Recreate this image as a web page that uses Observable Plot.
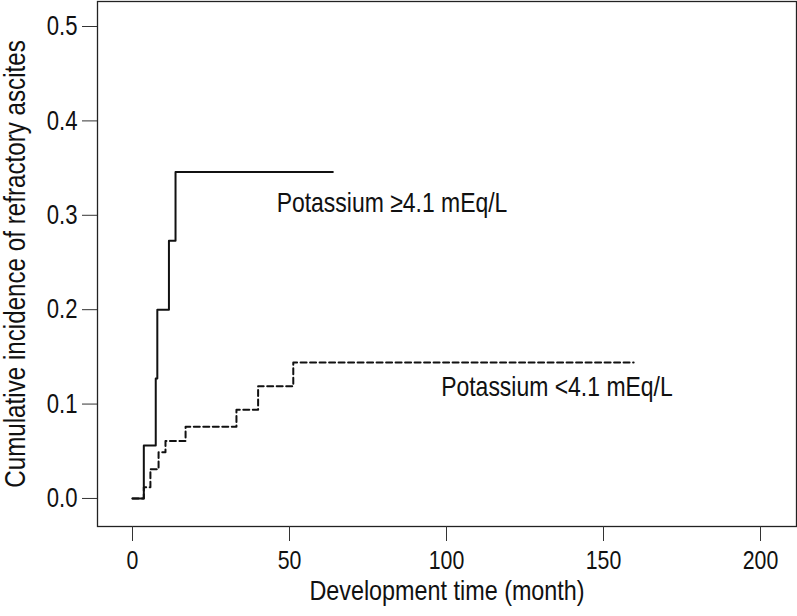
<!DOCTYPE html>
<html>
<head>
<meta charset="utf-8">
<script src="https://cdn.jsdelivr.net/npm/d3@7"></script>
<script src="https://cdn.jsdelivr.net/npm/@observablehq/plot@0.6"></script>
<style>
  html, body { margin: 0; padding: 0; background: #fff; }
  #chart svg { display: block; }
</style>
</head>
<body>
<div id="chart"></div>
<script>
// Potassium >= 4.1 mEq/L (solid)
const highTime = [0, 3.6, 7.4, 7.9, 11.6, 13.7, 63.8];
const highInc  = [0, 0.056, 0.127, 0.200, 0.273, 0.346, 0.346];
// Potassium < 4.1 mEq/L (dashed)
const lowTime = [0, 3.6, 5.7, 8.3, 10.5, 16.9, 33.1, 40.0, 51.2, 159.6];
const lowInc  = [0, 0.012, 0.031, 0.049, 0.061, 0.076, 0.094, 0.119, 0.144, 0.144];

const xTicks = [0, 50, 100, 150, 200];
const yTicks = [0.0, 0.1, 0.2, 0.3, 0.4, 0.5];
const labelHigh = "Potassium ≥4.1 mEq/L";
const labelLow = "Potassium <4.1 mEq/L";
const xTitle = "Development time (month)";
const yTitle = "Cumulative incidence of refractory ascites";

const high = highTime.map((t, i) => ({t, p: highInc[i]}));
const low = lowTime.map((t, i) => ({t, p: lowInc[i]}));

const font = "'Liberation Sans', Arial, sans-serif";

const chart = Plot.plot({
  width: 797,
  height: 616,
  marginLeft: 97,
  marginRight: 1,
  marginTop: 1,
  marginBottom: 90,
  style: {fontFamily: font, fontSize: "26px", color: "#111", background: "#fff"},
  x: {domain: [-11.15, 211.46]},
  y: {domain: [-0.0297, 0.5265]},
  marks: [
    Plot.frame({stroke: "#222", strokeWidth: 1.3}),
    Plot.axisX({ticks: xTicks, tickSize: 15, tickPadding: 9, label: null, stroke: "#333", fontSize: 26}),
    Plot.axisY({ticks: yTicks, tickSize: 15, tickPadding: 5, label: null, tickFormat: d3.format(".1f"), stroke: "#333", fontSize: 27}),
    Plot.line(high, {x: "t", y: "p", curve: "step-after", stroke: "#111", strokeWidth: 2}),
    Plot.line(low, {x: "t", y: "p", curve: "step-after", stroke: "#111", strokeWidth: 2, strokeDasharray: "6,3.5"}),
    Plot.text([labelHigh], {x: 45.9, y: 0.313, text: d => d, textAnchor: "start", fontSize: 28, fill: "#111"}),
    Plot.text([labelLow], {x: 98.3, y: 0.118, text: d => d, textAnchor: "start", fontSize: 28, fill: "#111"}),
    Plot.text([xTitle], {frameAnchor: "bottom", textAnchor: "middle", dy: 73, text: d => d, fontSize: 28.5, fill: "#111"}),
    Plot.text([yTitle], {frameAnchor: "left", textAnchor: "middle", dx: -82, rotate: -90, text: d => d, fontSize: 29.5, fill: "#111"})
  ]
});
document.getElementById("chart").appendChild(chart);
// Condense all text along its own baseline (narrow, Helvetica-Condensed-like look)
chart.querySelectorAll("text").forEach(el => {
  const tr = el.getAttribute("transform");
  if (tr && !el.hasAttribute("x")) {
    el.setAttribute("transform", tr + " scale(0.82,1)");
  } else {
    const len = el.getComputedTextLength();
    if (len > 0) {
      el.setAttribute("textLength", (len * 0.82).toFixed(2));
      el.setAttribute("lengthAdjust", "spacingAndGlyphs");
    }
  }
});
</script>
</body>
</html>
